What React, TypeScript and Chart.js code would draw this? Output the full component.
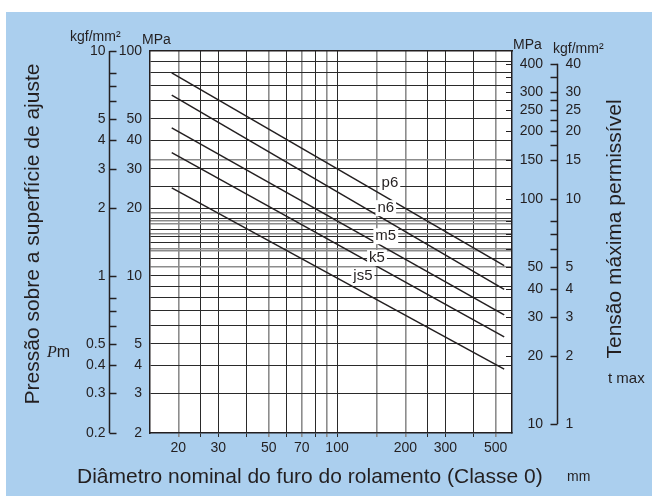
import React, { useEffect, useRef } from 'react';
import { Chart, registerables } from 'chart.js';

Chart.register(...registerables);

// ---------- data ----------
const X_MIN = 15;
const X_MAX = 590;
const X_GRID = [20, 25, 30, 40, 50, 60, 70, 80, 90, 100, 150, 200, 250, 300, 400, 500];
const X_GRAY = [20, 50, 70, 90, 150, 200, 500];
const X_LABELS = [20, 30, 50, 70, 100, 200, 300, 500];

const Y_MIN = 2;
const Y_MAX = 100;
const Y_GRID = [3, 4, 5, 6, 7, 8, 9, 10, 11, 12, 13, 14, 15, 16, 17, 18, 19, 20, 25, 30, 40, 50, 60, 70, 80, 90];
const Y_GRAY = [11, 13, 17, 19];

const Y2_MIN = 9.12;
const Y2_MAX = 456;
const Y2_GRID = [60, 70, 80, 150];

const DIAMETERS = [18.7, 545];
const P6 = [80, 11.1];
const N6 = [63.6, 8.7];
const M5 = [45.5, 6.7];
const K5 = [35.3, 5.35];
const JS5 = [24.6, 3.85];
const SERIES_NAMES = ['p6', 'n6', 'm5', 'k5', 'js5'];
const SERIES_VALUES = [P6, N6, M5, K5, JS5];
const LABEL_D = [171, 164, 164, 150, 130];
const LABEL_P = [25.8, 20, 15, 12, 10];

const LEFT_MPA = [100, 50, 40, 30, 20, 10, 5, 4, 3, 2];
const LEFT_KGF = ['10', '5', '4', '3', '2', '1', '0.5', '0.4', '0.3', '0.2'];
const LEFT_MINOR = [80, 70, 60, 8, 7, 6];

const RIGHT_MPA = [400, 300, 250, 200, 150, 100, 50, 40, 30, 20, 10];
const RIGHT_KGF = ['40', '30', '25', '20', '15', '10', '5', '4', '3', '2', '1'];
const RIGHT_MINOR = [350, 275, 225, 175, 80, 70, 60];
const RIGHT_EDGE = [400, 350, 300, 250, 200, 150, 100, 80, 70, 60, 50, 40, 30, 20];

// ---------- style ----------
const BLUE = '#abcfee';
const INK = '#231f20';
const DARK = '#2a2a2a';
const GRAY = '#8c8c8c';
const FONT = '"Liberation Sans", Arial, Helvetica, sans-serif';

const sidePlugin = {
  id: 'sideAxes',
  beforeDraw(chart: any) {
    const { ctx, chartArea: a } = chart;
    ctx.save();
    ctx.fillStyle = '#ffffff';
    ctx.fillRect(a.left, a.top, a.right - a.left, a.bottom - a.top);
    ctx.restore();
  },
  afterDraw(chart: any) {
    const { ctx, chartArea: a, scales } = chart;
    const xs = scales.x;
    const y = scales.y;
    const y2 = scales.y2;
    ctx.save();

    // series labels with white boxes
    ctx.font = `15px ${FONT}`;
    ctx.textAlign = 'center';
    ctx.textBaseline = 'middle';
    SERIES_NAMES.forEach((t, i) => {
      const px = xs.getPixelForValue(LABEL_D[i]);
      const py = y.getPixelForValue(LABEL_P[i]);
      const w = ctx.measureText(t).width;
      ctx.fillStyle = '#ffffff';
      ctx.fillRect(px - w / 2 - 2, py - 8, w + 4, 16);
      ctx.fillStyle = INK;
      ctx.fillText(t, px, py);
    });

    ctx.strokeStyle = INK;
    ctx.fillStyle = INK;
    ctx.lineWidth = 1.5;

    // left axis
    const lx = Math.round(a.left - 41) + 0.5;
    ctx.beginPath();
    ctx.moveTo(lx, y.getPixelForValue(LEFT_MPA[0]));
    ctx.lineTo(lx, y.getPixelForValue(LEFT_MPA[LEFT_MPA.length - 1]));
    ctx.stroke();
    ctx.font = `14px ${FONT}`;
    ctx.textBaseline = 'middle';
    LEFT_MPA.forEach((v, i) => {
      const py = Math.round(y.getPixelForValue(v)) + 0.5;
      ctx.beginPath();
      ctx.moveTo(lx, py);
      ctx.lineTo(lx + 7, py);
      ctx.stroke();
      ctx.textAlign = 'right';
      ctx.fillText(String(v), a.left - 8, py);
      ctx.fillText(LEFT_KGF[i], lx - 4, py);
    });
    LEFT_MINOR.forEach((v) => {
      const py = Math.round(y.getPixelForValue(v)) + 0.5;
      ctx.beginPath();
      ctx.moveTo(lx, py);
      ctx.lineTo(lx + 7, py);
      ctx.stroke();
    });

    // right axis
    const rx = Math.round(a.right + 45) + 0.5;
    ctx.beginPath();
    ctx.moveTo(rx, y2.getPixelForValue(RIGHT_MPA[0]));
    ctx.lineTo(rx, y2.getPixelForValue(RIGHT_MPA[RIGHT_MPA.length - 1]));
    ctx.stroke();
    RIGHT_MPA.forEach((v, i) => {
      const py = Math.round(y2.getPixelForValue(v)) + 0.5;
      ctx.beginPath();
      ctx.moveTo(rx - 7, py);
      ctx.lineTo(rx, py);
      ctx.stroke();
      ctx.textAlign = 'right';
      ctx.fillText(String(v), a.right + 31, py);
      ctx.textAlign = 'left';
      ctx.fillText(RIGHT_KGF[i], rx + 8, py);
    });
    RIGHT_MINOR.forEach((v) => {
      const py = Math.round(y2.getPixelForValue(v)) + 0.5;
      ctx.beginPath();
      ctx.moveTo(rx - 7, py);
      ctx.lineTo(rx, py);
      ctx.stroke();
    });
    ctx.lineWidth = 1;
    RIGHT_EDGE.forEach((v) => {
      const py = Math.round(y2.getPixelForValue(v)) + 0.5;
      ctx.beginPath();
      ctx.moveTo(a.right - 6, py);
      ctx.lineTo(a.right, py);
      ctx.stroke();
    });

    // unit labels
    ctx.textAlign = 'left';
    ctx.font = `14px ${FONT}`;
    ctx.fillText('kgf/mm²', a.left - 80, a.top - 14);
    ctx.fillText('MPa', a.left - 8, a.top - 11);
    ctx.fillText('MPa', a.right + 1, a.top - 6);
    ctx.fillText('kgf/mm²', a.right + 41, a.top - 2);
    ctx.fillText('mm', a.right + 55, 465);
    ctx.font = `15px ${FONT}`;
    ctx.fillText('t max', a.right + 96, 367);
    ctx.font = `italic 16px "Liberation Serif", "Times New Roman", serif`;
    ctx.fillText('P', 41, 341);
    const pw = ctx.measureText('P').width;
    ctx.font = `16px ${FONT}`;
    ctx.fillText('m', 41 + pw, 341);

    // titles
    ctx.font = `21px ${FONT}`;
    ctx.textAlign = 'left';
    ctx.fillText('Diâmetro nominal do furo do rolamento (Classe 0)', 71, 465);
    ctx.textAlign = 'center';
    ctx.save();
    ctx.translate(27, 222);
    ctx.rotate(-Math.PI / 2);
    ctx.fillText('Pressão sobre a superfície de ajuste', 0, 0);
    ctx.restore();
    ctx.save();
    ctx.translate(609, 217);
    ctx.rotate(-Math.PI / 2);
    ctx.fillText('Tensão máxima permissível', 0, 0);
    ctx.restore();

    ctx.restore();
  },
};

export default function App() {
  const ref = useRef<HTMLCanvasElement>(null);
  useEffect(() => {
    const canvas = ref.current;
    if (!canvas) return;
    const chart = new Chart(canvas, {
      type: 'line',
      data: {
        datasets: SERIES_NAMES.map((name, i) => ({
          label: name,
          data: DIAMETERS.map((d, j) => ({ x: d, y: SERIES_VALUES[i][j] })),
          borderColor: INK,
          borderWidth: 1.5,
          pointRadius: 0,
          fill: false,
          tension: 0,
          xAxisID: 'x',
          yAxisID: 'y',
        })),
      },
      options: {
        responsive: false,
        animation: false,
        devicePixelRatio: 1,
        layout: { padding: { left: 144, right: 140, top: 39, bottom: 23 } },
        plugins: { legend: { display: false }, tooltip: { enabled: false } },
        scales: {
          x: {
            type: 'logarithmic',
            position: 'bottom',
            min: X_MIN,
            max: X_MAX,
            afterBuildTicks: (s: any) => {
              s.ticks = X_GRID.map((v) => ({ value: v }));
            },
            afterFit: (s: any) => {
              s.height = 40;
            },
            ticks: {
              autoSkip: false,
              maxRotation: 0,
              padding: 3,
              color: INK,
              font: { family: FONT, size: 14 },
              callback: (v: any) => (X_LABELS.includes(Number(v)) ? String(v) : ''),
            },
            grid: {
              color: (c: any) => (X_GRAY.includes(c.tick?.value) ? GRAY : DARK),
              lineWidth: (c: any) => (X_GRAY.includes(c.tick?.value) ? 1.6 : 1),
              tickLength: 4,
            },
            border: { display: true, color: INK, width: 1.5 },
          },
          xTop: {
            type: 'logarithmic',
            position: 'top',
            min: X_MIN,
            max: X_MAX,
            ticks: { display: false },
            grid: { display: false },
            border: { display: true, color: INK, width: 1.5 },
            afterFit: (s: any) => {
              s.height = 0;
            },
          },
          y: {
            type: 'logarithmic',
            position: 'left',
            min: Y_MIN,
            max: Y_MAX,
            afterBuildTicks: (s: any) => {
              s.ticks = Y_GRID.map((v) => ({ value: v }));
            },
            afterFit: (s: any) => {
              s.width = 0;
            },
            ticks: { display: false },
            grid: {
              drawTicks: false,
              color: (c: any) => (Y_GRAY.includes(c.tick?.value) ? GRAY : DARK),
              lineWidth: (c: any) => (Y_GRAY.includes(c.tick?.value) ? 1.4 : 1),
            },
            border: { display: true, color: INK, width: 1.5 },
          },
          y2: {
            type: 'logarithmic',
            position: 'right',
            min: Y2_MIN,
            max: Y2_MAX,
            afterBuildTicks: (s: any) => {
              s.ticks = Y2_GRID.map((v) => ({ value: v }));
            },
            afterFit: (s: any) => {
              s.width = 0;
            },
            ticks: { display: false },
            grid: { drawTicks: false, color: GRAY, lineWidth: 1.4 },
            border: { display: true, color: INK, width: 1.5 },
          },
        },
      },
      plugins: [sidePlugin],
    } as any);
    return () => chart.destroy();
  }, []);

  return (
    <div
      style={{
        position: 'absolute',
        left: 6,
        top: 12,
        width: 646,
        height: 484,
        background: BLUE,
      }}
    >
      <canvas ref={ref} width={646} height={484} style={{ display: 'block' }} />
    </div>
  );
}
